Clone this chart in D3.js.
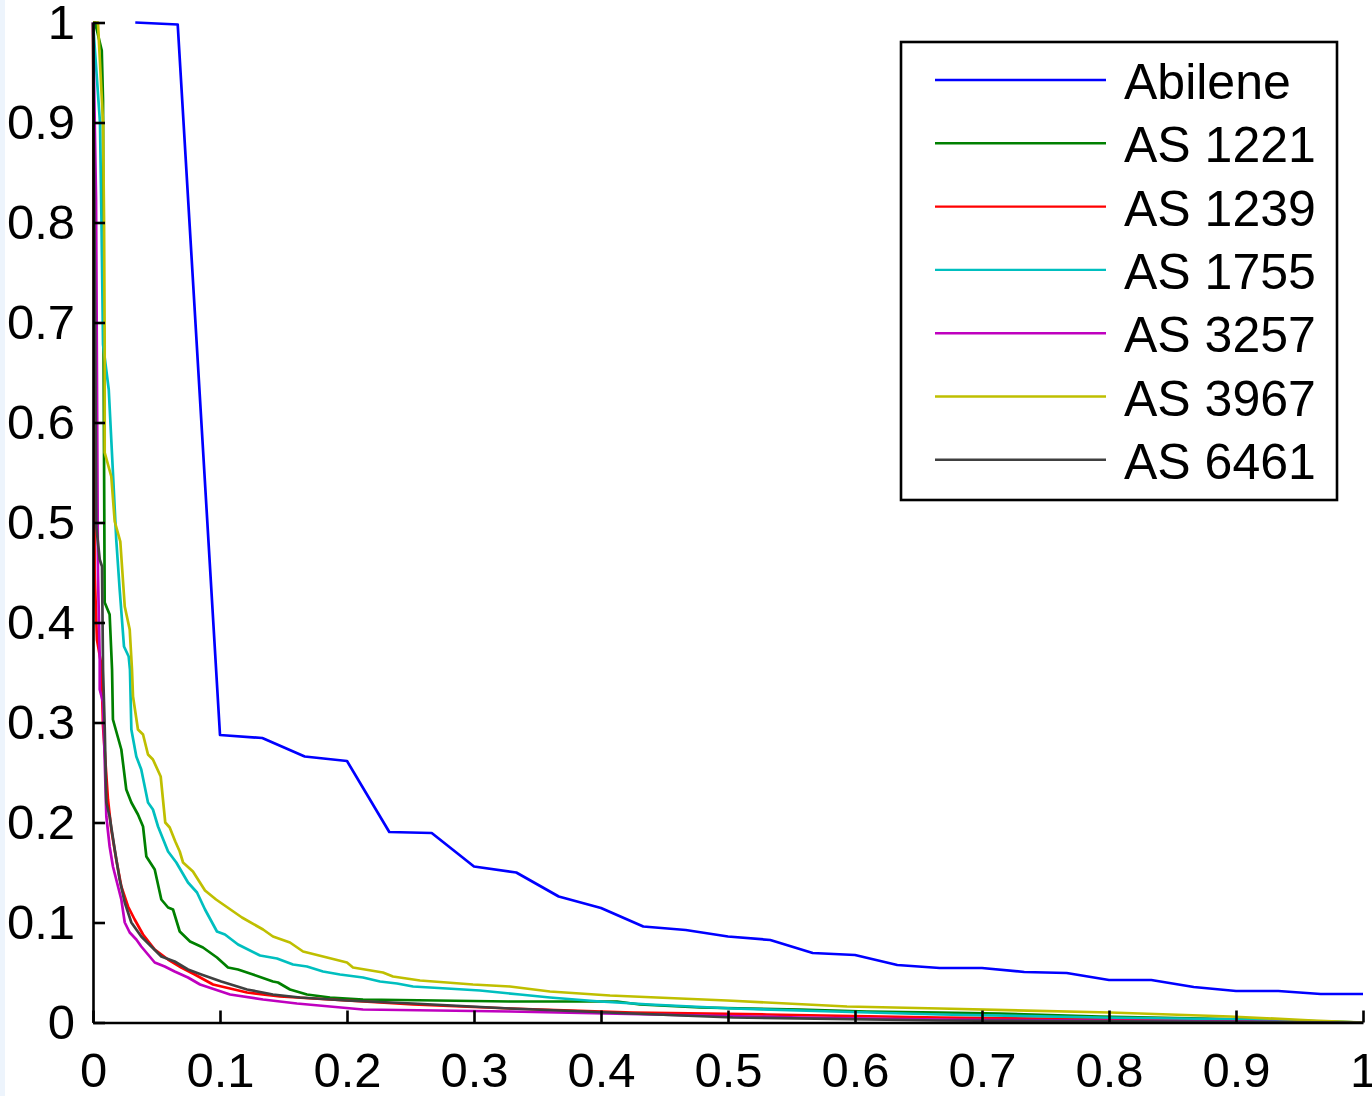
<!DOCTYPE html>
<html>
<head>
<meta charset="utf-8">
<script src="https://cdn.jsdelivr.net/npm/d3@7"></script>
<style>
  html, body { margin: 0; padding: 0; background: #fff; }
  svg { display: block; }
  text { font-family: "Liberation Sans", Arial, sans-serif; fill: #000; }
</style>
</head>
<body>
<svg id="chart" width="1372" height="1096"></svg>
<script>
// ---- data ----
const seriesNames = ["Abilene", "AS 1221", "AS 1239", "AS 1755", "AS 3257", "AS 3967", "AS 6461"];
const seriesColors = ["#0000ff", "#008000", "#ff0000", "#00bfbf", "#bf00bf", "#bfbf00", "#404040"];

const xTicks = [0, 0.1, 0.2, 0.3, 0.4, 0.5, 0.6, 0.7, 0.8, 0.9, 1];
const yTicks = [0, 0.1, 0.2, 0.3, 0.4, 0.5, 0.6, 0.7, 0.8, 0.9, 1];

const abileneX = [0.0333, 0.0667, 0.1, 0.1333, 0.1667, 0.2, 0.2333, 0.2667, 0.3, 0.3333,
                  0.3667, 0.4, 0.4333, 0.4667, 0.5, 0.5333, 0.5667, 0.6, 0.6333, 0.6667,
                  0.7, 0.7333, 0.7667, 0.8, 0.8333, 0.8667, 0.9, 0.9333, 0.9667, 1.0];
const abileneY = [1.0, 0.998, 0.2875, 0.2845, 0.266, 0.2615, 0.1905, 0.1895, 0.156, 0.150,
                  0.126, 0.1145, 0.096, 0.0925, 0.086, 0.0825, 0.0695, 0.0675, 0.0575, 0.0545,
                  0.0545, 0.0505, 0.0495, 0.0425, 0.0425, 0.0355, 0.0315, 0.0315, 0.0285, 0.0285];

const as1221 = [[0,1.0],[0.0016,1.0],[0.0069,0.972],[0.0079,0.922],[0.0083,0.678],[0.0092,0.420],
  [0.0131,0.408],[0.015,0.353],[0.0157,0.303],[0.0223,0.273],[0.0262,0.233],[0.0302,0.220],
  [0.0354,0.208],[0.0394,0.196],[0.042,0.166],[0.0486,0.153],[0.0538,0.123],[0.0591,0.115],
  [0.063,0.113],[0.0683,0.091],[0.0764,0.081],[0.0866,0.075],[0.0976,0.065],[0.1063,0.055],
  [0.1142,0.053],[0.126,0.048],[0.1417,0.041],[0.1457,0.040],[0.1551,0.033],[0.1685,0.028],
  [0.1866,0.025],[0.2126,0.023],[0.3283,0.021],[0.4126,0.021],[0.4307,0.018],[0.478,0.015],
  [0.5567,0.013],[0.6094,0.011],[0.6669,0.010],[0.7142,0.009],[0.7929,0.006],[0.911,0.003],[1,0]];

const as1239 = [[0,1.0],[0.0008,0.723],[0.0013,0.450],[0.0031,0.383],[0.0065,0.358],[0.0079,0.296],
  [0.0118,0.223],[0.0144,0.193],[0.0183,0.163],[0.0223,0.136],[0.0276,0.116],[0.0328,0.103],
  [0.0394,0.088],[0.0486,0.073],[0.0591,0.063],[0.0695,0.055],[0.0801,0.048],[0.0945,0.038],
  [0.1213,0.030],[0.1472,0.026],[0.1866,0.023],[0.252,0.018],[0.3283,0.014],[0.4252,0.010],
  [0.5307,0.008],[0.6669,0.005],[1,0]];

const as1755 = [[0,1.0],[0.0055,0.900],[0.0067,0.800],[0.0079,0.678],[0.0124,0.633],[0.0157,0.550],
  [0.0183,0.483],[0.021,0.433],[0.0244,0.376],[0.0281,0.366],[0.0291,0.353],[0.0302,0.293],
  [0.0341,0.266],[0.038,0.253],[0.0433,0.220],[0.0472,0.213],[0.0512,0.196],[0.0591,0.171],
  [0.0656,0.160],[0.0748,0.140],[0.0819,0.130],[0.0882,0.113],[0.0976,0.091],[0.1039,0.088],
  [0.1142,0.078],[0.1315,0.067],[0.1449,0.064],[0.1575,0.058],[0.1685,0.056],[0.1811,0.051],
  [0.1945,0.048],[0.2126,0.045],[0.226,0.041],[0.2394,0.039],[0.252,0.036],[0.2787,0.034],
  [0.3047,0.032],[0.3362,0.028],[0.3598,0.025],[0.3992,0.021],[0.4386,0.018],[0.5039,0.014],
  [0.5827,0.011],[0.6669,0.008],[0.7929,0.005],[0.911,0.003],[1,0]];

const as3257 = [[0,1.0],[0.0024,0.823],[0.0039,0.450],[0.0053,0.363],[0.0053,0.333],[0.0079,0.320],
  [0.0105,0.206],[0.0131,0.176],[0.0157,0.156],[0.0197,0.136],[0.0223,0.123],[0.025,0.100],
  [0.0289,0.090],[0.0341,0.083],[0.038,0.076],[0.0433,0.068],[0.0486,0.060],[0.0565,0.056],
  [0.0643,0.051],[0.0748,0.045],[0.0843,0.038],[0.1079,0.028],[0.1339,0.023],[0.1606,0.019],
  [0.2126,0.013],[0.3283,0.011],[0.5567,0.005],[0.6669,0.003],[1,0]];

const as3967 = [[0,1.0],[0.0039,1.0],[0.0079,0.900],[0.0087,0.800],[0.0092,0.678],[0.0092,0.570],
  [0.0144,0.546],[0.0171,0.501],[0.0215,0.481],[0.025,0.416],[0.0289,0.393],[0.0307,0.353],
  [0.0315,0.326],[0.0354,0.293],[0.0394,0.288],[0.0433,0.268],[0.0472,0.263],[0.0533,0.246],
  [0.0569,0.200],[0.0604,0.195],[0.0648,0.181],[0.0683,0.171],[0.0709,0.160],[0.0787,0.151],
  [0.0882,0.132],[0.0969,0.123],[0.1071,0.114],[0.1173,0.105],[0.1339,0.093],[0.1417,0.086],
  [0.1551,0.080],[0.1654,0.071],[0.1843,0.065],[0.2,0.060],[0.2047,0.055],[0.2283,0.050],
  [0.2362,0.046],[0.2575,0.042],[0.2787,0.040],[0.2992,0.038],[0.3283,0.036],[0.3598,0.031],
  [0.4071,0.027],[0.4992,0.022],[0.5937,0.016],[0.6669,0.014],[0.8008,0.010],[0.8953,0.006],
  [0.9606,0.002],[1,0]];

const as6461 = [[0,1.0],[0.0016,0.723],[0.0026,0.496],[0.0053,0.463],[0.0071,0.456],[0.0079,0.353],
  [0.0092,0.296],[0.0105,0.220],[0.0131,0.206],[0.0171,0.173],[0.021,0.143],[0.025,0.120],
  [0.0302,0.100],[0.038,0.086],[0.0459,0.076],[0.0538,0.066],[0.0643,0.061],[0.0748,0.053],
  [0.0853,0.048],[0.101,0.041],[0.1213,0.033],[0.1417,0.028],[0.163,0.025],[0.2,0.022],
  [0.252,0.019],[0.3283,0.014],[0.5039,0.005],[0.6669,0.002],[1,0]];

// ---- drawing ----
const svg = d3.select("#chart");
const W = 1372, H = 1096;

svg.append("rect").attr("x", 0).attr("y", 0).attr("width", W).attr("height", H).attr("fill", "#ffffff");
svg.append("rect").attr("x", 0).attr("y", 0).attr("width", 5).attr("height", H).attr("fill", "#edf4fc");

const x = d3.scaleLinear().domain([0, 1]).range([93, 1363]);
const y = d3.scaleLinear().domain([0, 1]).range([1022.5, 22.5]);

const abilene = abileneX.map((v, i) => [v, abileneY[i]]);
const allSeries = [abilene, as1221, as1239, as1755, as3257, as3967, as6461];

const line = d3.line().x(d => x(d[0])).y(d => y(d[1]));

const plot = svg.append("g");
allSeries.forEach((pts, i) => {
  plot.append("path")
    .datum(pts)
    .attr("d", line)
    .attr("fill", "none")
    .attr("stroke", seriesColors[i])
    .attr("stroke-width", 2.7)
    .attr("stroke-linejoin", "round");
});

// axes
const fmt = d => (d === 0 ? "0" : d === 1 ? "1" : d3.format(".1f")(d));
const xAxis = d3.axisBottom(x).tickValues(xTicks).tickFormat(fmt)
  .tickSizeInner(-12).tickSizeOuter(0).tickPadding(30);
const yAxis = d3.axisLeft(y).tickValues(yTicks).tickFormat(fmt)
  .tickSizeInner(-12).tickSizeOuter(0).tickPadding(18);

const gx = svg.append("g").attr("transform", "translate(0,1022.5)").call(xAxis);
const gy = svg.append("g").attr("transform", "translate(93,0)").call(yAxis);
[gx, gy].forEach(g => {
  g.select(".domain").attr("stroke", "#000").attr("stroke-width", 2.6);
  g.selectAll(".tick line").attr("stroke", "#000").attr("stroke-width", 2.6);
  g.selectAll(".tick text")
    .attr("font-family", "'Liberation Sans', Arial, sans-serif")
    .attr("font-size", 49).attr("fill", "#000");
});

// legend
const lg = svg.append("g");
lg.append("rect")
  .attr("x", 901).attr("y", 42).attr("width", 436).attr("height", 458)
  .attr("fill", "#fff").attr("stroke", "#000").attr("stroke-width", 2.6);
seriesNames.forEach((name, i) => {
  const ly = 80 + i * 63.3;
  lg.append("line")
    .attr("x1", 935).attr("x2", 1106).attr("y1", ly).attr("y2", ly)
    .attr("stroke", seriesColors[i]).attr("stroke-width", 2.4);
  lg.append("text")
    .attr("x", 1124).attr("y", ly + 19)
    .attr("font-size", 50)
    .text(name);
});
</script>
</body>
</html>
